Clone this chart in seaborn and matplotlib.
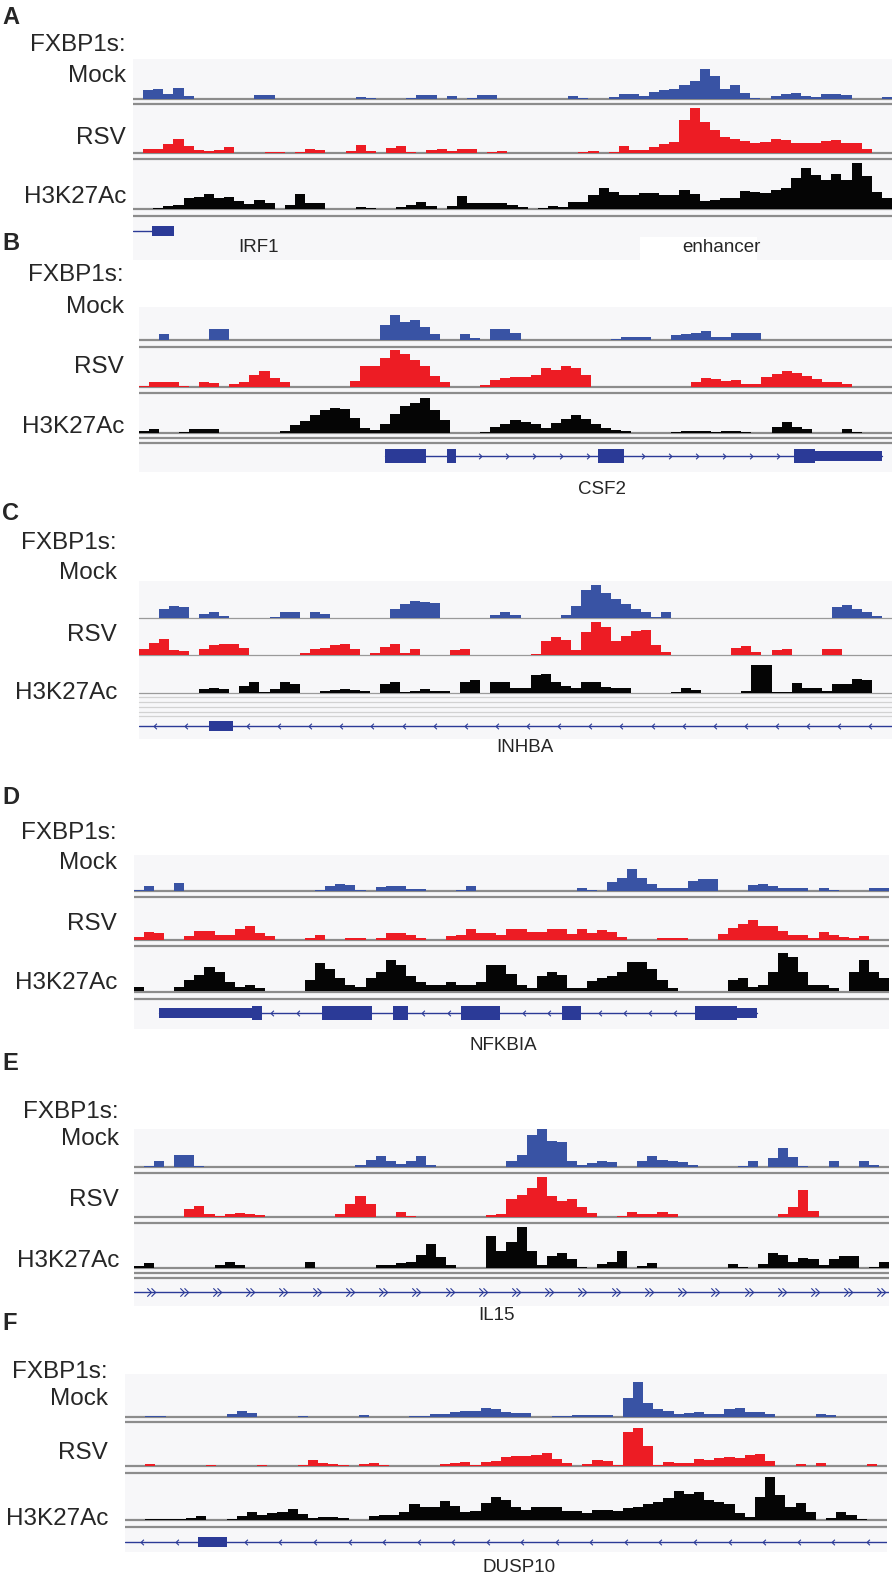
import numpy as np
import pandas as pd
import matplotlib.pyplot as plt
import seaborn as sns
from matplotlib.patches import Rectangle
from matplotlib.path import Path

sns.set_style('white')
plt.rcParams['font.family'] = ['Liberation Sans', 'DejaVu Sans']

W, H = 892, 1574
N_BINS = 75

# coverage per genomic bin (0 = empty, 10 = top of the track)
mock_a = [0, 2.2, 2.6, 1.2, 2.7, 0.8, 0, 0, 0, 0,
          0, 0, 1.0, 1.1, 0, 0, 0, 0, 0, 0,
          0, 0, 0.4, 0.2, 0, 0, 0, 0.3, 0.9, 1.0,
          0, 0.8, 0, 0.3, 0.9, 0.9, 0, 0, 0, 0,
          0, 0, 0, 0.8, 0.3, 0, 0, 0.5, 1.2, 1.2,
          0.7, 1.8, 2.2, 2.6, 3.6, 4.6, 7.6, 5.8, 2.4, 3.6,
          1.6, 0.3, 0, 0.8, 1.3, 1.4, 0.8, 0.5, 1.3, 1.2,
          1.0, 0, 0, 0, 0.4]
rsv_a = [0, 0.9, 0.9, 2.0, 3.0, 1.5, 0.6, 0.5, 0.6, 1.2,
         0, 0, 0, 0.3, 0.3, 0, 0.3, 0.9, 0.6, 0,
         0, 0.5, 1.8, 0.5, 0, 1.0, 1.4, 0.3, 0, 0.6,
         0.9, 0.4, 0.8, 0.9, 0, 0.2, 0.4, 0, 0, 0,
         0, 0, 0, 0, 0.3, 0.4, 0, 0.2, 1.5, 0.7,
         0.7, 1.2, 2.0, 2.3, 7.0, 9.6, 6.6, 4.8, 3.4, 3.0,
         2.6, 2.1, 2.4, 3.0, 2.8, 2.1, 2.1, 2.2, 2.6, 2.7,
         2.2, 2.1, 0.8, 0, 0]
h3k_a = [0, 0, 0.3, 0.7, 0.9, 2.2, 2.5, 3.1, 2.3, 2.5,
         1.7, 1.0, 1.9, 1.2, 0, 0.8, 3.1, 1.2, 1.2, 0,
         0, 0, 0.5, 0.3, 0, 0, 0.4, 0.8, 1.5, 0.6,
         0, 0.6, 2.8, 1.2, 1.2, 1.2, 1.2, 0.9, 0.5, 0,
         0.2, 0.6, 0.4, 1.5, 1.5, 3.0, 4.4, 3.5, 3.0, 3.0,
         3.3, 3.4, 3.0, 3.0, 4.0, 3.2, 1.7, 1.9, 2.2, 2.3,
         3.8, 3.6, 3.3, 4.0, 4.4, 6.5, 8.6, 7.0, 6.0, 7.2,
         6.0, 9.6, 6.8, 3.6, 2.3]

mock_b = [0, 0, 1.8, 0, 0, 0, 0, 3.3, 3.3, 0,
          0, 0, 0, 0, 0, 0, 0, 0, 0, 0,
          0, 0, 0, 0, 4.5, 7.5, 5.5, 6.2, 4.0, 1.8,
          0, 0, 1.8, 0.5, 0, 3.3, 3.3, 2.0, 0, 0,
          0, 0, 0, 0, 0, 0, 0, 0.3, 0.8, 0.8,
          0.8, 0, 0, 1.5, 1.8, 2.2, 2.6, 0.8, 0.9, 2.0,
          2.0, 2.0, 0, 0, 0, 0, 0, 0, 0, 0,
          0, 0, 0, 0, 0]
rsv_b = [0.2, 1.4, 1.4, 1.4, 0.3, 0, 1.4, 0.9, 0, 0.8,
         1.4, 3.0, 4.2, 2.2, 1.2, 0, 0, 0, 0, 0,
         0, 1.5, 5.5, 5.5, 7.4, 9.6, 8.5, 7.0, 5.5, 2.8,
         1.2, 0, 0, 0, 0.4, 1.8, 2.4, 2.5, 2.5, 3.1,
         5.0, 4.3, 5.3, 5.0, 3.0, 0, 0, 0, 0, 0,
         0, 0, 0, 0, 0, 1.2, 2.2, 2.0, 1.5, 1.7,
         0.8, 0.8, 2.6, 3.3, 4.2, 3.5, 2.7, 2.0, 1.4, 1.2,
         0.8, 0, 0, 0, 0]
h3k_b = [0.6, 1.0, 0, 0, 0.3, 1.0, 1.0, 1.0, 0, 0,
         0, 0, 0, 0, 0.4, 2.0, 3.2, 4.8, 6.0, 6.7,
         6.3, 4.0, 1.4, 0.8, 2.5, 5.0, 7.1, 7.9, 9.2, 6.0,
         3.3, 0, 0, 0, 0.3, 1.7, 2.3, 3.5, 2.8, 2.5,
         1.4, 2.7, 3.6, 4.8, 3.8, 2.3, 1.2, 0.8, 0.5, 0,
         0, 0, 0, 0.2, 0.4, 0.4, 0.4, 0.2, 0.4, 0.4,
         0.3, 0, 0, 1.7, 2.9, 1.5, 1.0, 0, 0, 0,
         1.0, 0.3, 0, 0, 0]

mock_c = [0, 0, 2.5, 3.2, 3.0, 0, 1.2, 1.5, 0.5, 0,
          0, 0, 0, 0.3, 1.5, 1.5, 0, 1.5, 1.2, 0,
          0, 0, 0, 0, 0, 2.5, 3.9, 4.5, 4.2, 4.0,
          0, 0, 0, 0, 0, 0.9, 1.5, 0.8, 0, 0,
          0, 0, 0.7, 3.2, 7.6, 9.0, 6.8, 5.2, 3.8, 2.5,
          1.6, 0.3, 1.5, 0, 0, 0, 0, 0, 0, 0,
          0, 0, 0, 0, 0, 0, 0, 0, 0, 3.0,
          3.6, 2.5, 1.5, 0.5, 0]
rsv_c = [1.7, 3.4, 4.5, 1.5, 1.2, 0, 1.7, 3.0, 3.2, 3.2,
         2.0, 0, 0, 0, 0, 0, 0.6, 1.7, 2.0, 2.8,
         3.2, 1.8, 0, 0.5, 2.2, 3.2, 0.6, 1.7, 0, 0,
         0, 1.5, 1.7, 0, 0, 0, 0, 0, 0, 0.3,
         4.0, 5.1, 4.2, 1.5, 6.5, 9.3, 8.0, 4.0, 5.5, 7.0,
         7.2, 3.0, 0.8, 0, 0, 0, 0, 0, 0, 2.0,
         2.6, 0.8, 0, 1.4, 1.7, 0, 0, 0, 1.7, 1.7,
         0, 0, 0, 0, 0]
h3k_c = [0, 0, 0, 0, 0, 0, 1.0, 1.5, 1.0, 0,
         2.0, 3.1, 0.3, 1.0, 3.1, 2.5, 0, 0, 0.5, 0.7,
         1.0, 0.7, 0.6, 0, 2.5, 3.0, 0.4, 0.6, 1.0, 0.6,
         0.6, 0, 3.0, 3.5, 0, 3.1, 3.1, 1.5, 1.5, 4.9,
         5.2, 3.0, 2.0, 1.5, 3.1, 3.1, 1.8, 1.5, 1.3, 0,
         0, 0, 0, 0.2, 1.5, 0.8, 0, 0, 0, 0,
         0.5, 7.9, 7.9, 0.4, 0.3, 2.8, 1.5, 1.3, 0.5, 2.4,
         2.5, 3.9, 3.5, 0, 0]

mock_d = [0.4, 1.4, 0, 0, 2.2, 0, 0, 0, 0, 0,
          0, 0, 0, 0, 0, 0, 0, 0, 0.3, 1.4,
          2.0, 1.6, 0.4, 0, 1.0, 1.4, 1.4, 0.6, 0.6, 0,
          0, 0, 0.2, 1.4, 0, 0, 0, 0, 0, 0,
          0, 0, 0, 0, 0.7, 0.4, 0, 2.5, 3.5, 6.2,
          3.5, 2.0, 0.7, 0.7, 0.7, 2.8, 3.2, 3.2, 0, 0,
          0, 1.8, 2.0, 1.4, 0.9, 0.7, 0.7, 0, 0.7, 0.4,
          0, 0, 0.1, 0.7, 0.7]
rsv_d = [0.7, 2.0, 1.8, 0, 0, 1.0, 2.2, 2.2, 1.2, 1.3,
         2.8, 3.5, 1.8, 0.9, 0, 0, 0, 0.6, 1.2, 0,
         0, 0.5, 0.5, 0, 0.5, 1.8, 1.6, 1.2, 0.4, 0,
         0, 1.0, 1.2, 2.8, 1.8, 1.8, 1.3, 2.6, 2.6, 2.0,
         2.0, 2.6, 2.6, 1.4, 2.6, 1.8, 2.5, 2.0, 0.8, 0,
         0, 0, 0.5, 0.6, 0.5, 0, 0, 0, 1.5, 3.0,
         4.0, 4.8, 3.3, 3.5, 2.2, 1.2, 1.2, 0.4, 2.0, 1.2,
         0.8, 0.5, 1.0, 0, 0]
h3k_d = [1.0, 0, 0, 0, 1.0, 2.6, 3.8, 5.5, 4.5, 2.0,
         1.0, 1.4, 0.8, 0, 0, 0, 0, 2.5, 6.5, 5.0,
         3.0, 1.5, 1.0, 3.0, 4.5, 7.3, 6.0, 3.5, 2.0, 1.5,
         1.5, 2.0, 1.5, 1.5, 2.2, 6.0, 6.1, 4.0, 1.4, 0.6,
         3.5, 4.5, 3.8, 0.8, 0.8, 2.3, 3.0, 3.5, 4.5, 6.7,
         6.7, 5.0, 2.5, 0.8, 0, 0, 0, 0, 0, 2.5,
         3.0, 1.0, 1.5, 4.5, 8.9, 8.0, 4.5, 1.5, 1.3, 0.6,
         0, 4.5, 7.3, 4.5, 3.0]

mock_e = [0, 0.2, 1.7, 0, 3.1, 3.1, 0.3, 0, 0, 0,
          0, 0, 0, 0, 0, 0, 0, 0, 0, 0,
          0, 0, 0.6, 1.8, 2.8, 1.5, 0.8, 1.7, 3.0, 0.4,
          0, 0, 0, 0, 0, 0, 0, 1.7, 3.1, 8.3,
          9.9, 6.8, 6.6, 1.5, 0.6, 1.0, 1.7, 1.2, 0, 0.1,
          1.5, 2.9, 1.8, 1.5, 1.4, 0.6, 0, 0, 0, 0,
          0.2, 1.7, 0, 2.5, 5.0, 2.6, 0.2, 0, 0, 1.7,
          0, 0, 1.7, 0.4, 0]
rsv_e = [0, 0, 0, 0, 0, 2.0, 2.6, 0.8, 0.2, 0.6,
         1.0, 0.6, 0.4, 0, 0, 0, 0, 0, 0, 0,
         0.6, 3.0, 5.0, 3.0, 0, 0.1, 1.2, 0.2, 0, 0,
         0, 0, 0, 0, 0, 0.4, 0.6, 4.2, 5.2, 7.0,
         9.5, 5.0, 3.8, 4.2, 2.5, 1.0, 0, 0, 0.3, 1.2,
         0.8, 0.8, 1.2, 0.8, 0, 0, 0, 0, 0, 0,
         0, 0, 0, 0, 0.8, 2.5, 6.5, 1.4, 0, 0,
         0, 0, 0, 0, 0]
h3k_e = [0.4, 1.1, 0, 0, 0, 0, 0, 0, 0.8, 1.4,
         0.6, 0, 0, 0, 0, 0, 0, 1.4, 0, 0,
         0, 0, 0, 0, 0.6, 0.6, 1.1, 1.4, 3.0, 5.5,
         2.5, 0.8, 0, 0, 0, 7.5, 4.0, 6.0, 9.6, 4.0,
         0.8, 2.8, 3.6, 2.2, 0.3, 0, 1.0, 1.4, 4.0, 0,
         0.4, 1.2, 0, 0, 0, 0, 0, 0, 0, 1.0,
         0.2, 0, 1.0, 3.5, 3.0, 1.4, 2.4, 2.2, 0.6, 2.0,
         2.8, 2.8, 0, 0.2, 1.4]

mock_f = [0, 0, 0.2, 0.3, 0, 0, 0, 0, 0, 0,
          0.6, 1.4, 1.0, 0, 0, 0, 0, 0.2, 0, 0,
          0, 0, 0, 0.4, 0, 0, 0, 0, 0.3, 0.3,
          0.6, 0.8, 1.1, 1.3, 1.3, 2.0, 1.8, 1.2, 0.9, 0.9,
          0, 0, 0.2, 0.3, 0.4, 0.4, 0.5, 0.4, 0.1, 4.5,
          8.2, 3.2, 1.9, 1.3, 0.8, 1.0, 1.2, 0.6, 0.8, 1.8,
          2.0, 1.1, 1.1, 0.8, 0, 0, 0, 0, 0.6, 0.5,
          0, 0, 0, 0, 0]
rsv_f = [0, 0, 0.5, 0, 0, 0, 0, 0, 0.3, 0,
         0, 0, 0, 0.2, 0, 0, 0, 0.3, 1.4, 0.8,
         0.4, 0.2, 0, 0.5, 0.6, 0.3, 0, 0, 0, 0,
         0, 0.4, 0.8, 1.0, 0.3, 1.0, 1.2, 2.2, 2.4, 2.5,
         2.6, 3.0, 1.6, 0.8, 0, 0.4, 1.4, 1.1, 0.3, 8.0,
         9.0, 4.8, 0.3, 0.9, 0.6, 0.7, 1.6, 1.4, 1.9, 2.2,
         1.9, 2.7, 2.8, 1.3, 0, 0, 0.4, 0, 0.8, 0,
         0, 0, 0, 0.4, 0]
h3k_f = [0, 0, 0.2, 0.3, 0.3, 0.3, 0.5, 0.8, 0, 0,
         0.3, 0.9, 1.8, 1.2, 1.5, 1.8, 2.4, 1.4, 0.4, 0.7,
         0.6, 0.4, 0, 0, 0.9, 1.2, 1.2, 1.8, 3.6, 2.8,
         2.8, 4.2, 3.2, 1.8, 2.0, 3.8, 5.0, 4.5, 2.8, 2.2,
         2.8, 2.8, 2.8, 2.0, 2.0, 1.6, 2.2, 2.2, 2.0, 2.6,
         2.8, 3.6, 4.0, 4.8, 6.5, 5.8, 6.2, 4.5, 4.0, 3.5,
         1.5, 0.6, 5.0, 9.6, 5.5, 2.8, 3.8, 1.8, 0, 0.4,
         1.8, 1.2, 0.3, 0, 0]

# gene models (bin units): transcript span, exons (start, end, kind), strand
irf1_span, irf1_exons, irf1_strand = (0, 1.9), [(1.9, 4.1, 'utr')], '+'
csf2_span = (24.5, 74.0)
csf2_exons = [(24.5, 28.6, 'cds'), (30.7, 31.6, 'cds'), (45.7, 48.3, 'cds'),
              (65.2, 67.3, 'cds'), (67.3, 74.0, 'utr')]
csf2_strand = '+'
inhba_span, inhba_exons, inhba_strand = (0, 75), [(7.0, 9.4, 'utr')], '-'
nfkbia_span = (2.5, 61.9)
nfkbia_exons = [(2.5, 11.7, 'utr'), (11.7, 12.7, 'cds'), (18.7, 23.6, 'cds'),
                (25.7, 27.2, 'cds'), (32.5, 36.4, 'cds'), (42.5, 44.4, 'cds'),
                (55.7, 59.9, 'cds'), (59.9, 61.9, 'utr')]
nfkbia_strand = '-'
il15_span, il15_exons, il15_strand = (0, 75), [], '++'
dusp10_span, dusp10_exons, dusp10_strand = (0, 75), [(7.2, 10.0, 'utr')], '-'

track_names = ['Mock', 'RSV', 'H3K27Ac']
track_colors = ['#3953a4', '#ed1c24', '#050505']
GENE = '#2b3a97'
BG = '#f7f7f9'
SEP = '#8c8c8c'

panels = [
    dict(letter='A', ly=17, x0=133, x1=892, lx=126, fy=45, ty=(76, 138, 197),
         boxes=((59, 99), (106, 153), (161, 209)), lines=(99, 104, 153, 159, 209, 216),
         thin=(), faint=(), bg=(59, 260), gy=231, glab=(259, 248), step=None,
         data=(mock_a, rsv_a, h3k_a), gene=('IRF1', irf1_span, irf1_exons, irf1_strand)),
    dict(letter='B', ly=243, x0=139, x1=892, lx=124, fy=275, ty=(307, 367, 427),
         boxes=((307, 340), (348, 387), (395, 433)), lines=(340, 347, 387, 393, 433, 438, 443),
         thin=(), faint=(), bg=(307, 472), gy=456, glab=(602, 489), step=2.7,
         data=(mock_b, rsv_b, h3k_b), gene=('CSF2', csf2_span, csf2_exons, csf2_strand)),
    dict(letter='C', ly=513, x0=139, x1=892, lx=117, fy=543, ty=(573, 635, 693),
         boxes=((581, 618), (620, 655), (657, 693)), lines=(),
         thin=(618, 655, 693), faint=(697, 702, 707, 712, 716), bg=(581, 739), gy=726,
         glab=(525, 747), step=3.1,
         data=(mock_c, rsv_c, h3k_c), gene=('INHBA', inhba_span, inhba_exons, inhba_strand)),
    dict(letter='D', ly=798, x0=134, x1=889, lx=117, fy=833, ty=(863, 924, 983),
         boxes=((855, 891), (899, 940), (948, 991)), lines=(891, 897, 940, 946, 992, 999),
         thin=(), faint=(), bg=(855, 1029), gy=1013, glab=(503, 1045), step=2.5,
         data=(mock_d, rsv_d, h3k_d), gene=('NFKBIA', nfkbia_span, nfkbia_exons, nfkbia_strand)),
    dict(letter='E', ly=1063, x0=134, x1=889, lx=119, fy=1112, ty=(1139, 1200, 1261),
         boxes=((1129, 1167), (1175, 1217), (1225, 1268)),
         lines=(1167, 1173, 1217, 1223, 1268, 1273, 1278),
         thin=(), faint=(), bg=(1129, 1306), gy=1292, glab=(496, 1315), step=3.3,
         data=(mock_e, rsv_e, h3k_e), gene=('IL15', il15_span, il15_exons, il15_strand)),
    dict(letter='F', ly=1323, x0=125, x1=887, lx=108, fy=1372, ty=(1399, 1453, 1519),
         boxes=((1374, 1417), (1424, 1466), (1475, 1520)), lines=(1417, 1422, 1466, 1473, 1520, 1527),
         thin=(), faint=(), bg=(1374, 1552), gy=1542, glab=(519, 1567), step=3.4,
         data=(mock_f, rsv_f, h3k_f), gene=('DUSP10', dusp10_span, dusp10_exons, dusp10_strand)),
]

# chevron markers for strand direction
M, L = Path.MOVETO, Path.LINETO
chev = {
    '+': Path([(-0.5, 1), (0.5, 0), (-0.5, -1)], [M, L, L]),
    '-': Path([(0.5, 1), (-0.5, 0), (0.5, -1)], [M, L, L]),
    '++': Path([(-1, 1), (0, 0), (-1, -1), (0, 1), (1, 0), (0, -1)], [M, L, L, M, L, L]),
}

fig = plt.figure(figsize=(W / 100, H / 100), dpi=100)
ov = fig.add_axes([0, 0, 1, 1])
ov.set_xlim(0, W)
ov.set_ylim(H, 0)
ov.axis('off')


def px_axes(x0, x1, top, bottom):
    ax = fig.add_axes([x0 / W, 1 - bottom / H, (x1 - x0) / W, (bottom - top) / H])
    ax.patch.set_alpha(0)
    ax.axis('off')
    return ax


centers = np.arange(N_BINS) + 0.5

for p in panels:
    x0, x1 = p['x0'], p['x1']
    ov.add_patch(Rectangle((x0, p['bg'][0]), x1 - x0, p['bg'][1] - p['bg'][0],
                           facecolor=BG, edgecolor='none', zorder=0))
    for y in p['lines']:
        ov.plot([x0, x1], [y, y], color=SEP, lw=1.6, solid_capstyle='butt', zorder=1)
    for y in p['thin']:
        ov.plot([x0, x1], [y, y], color='#9a9a9a', lw=0.9, zorder=1)
    for y in p['faint']:
        ov.plot([x0, x1], [y, y], color='#d2d2d2', lw=0.9, zorder=1)

    ov.text(2, p['ly'], p['letter'], fontsize=17, fontweight='bold', ha='left', va='center')
    ov.text(p['lx'], p['fy'], 'FXBP1s:', fontsize=17.5, ha='right', va='center')
    for name, y in zip(track_names, p['ty']):
        ov.text(p['lx'], y, name, fontsize=17.5, ha='right', va='center')

    for vals, color, (top, base) in zip(p['data'], track_colors, p['boxes']):
        ax = px_axes(x0, x1, top, base)
        cov = pd.DataFrame({'pos': centers, 'cov': vals})
        sns.histplot(data=cov, x='pos', weights='cov', bins=N_BINS, binrange=(0, N_BINS),
                     element='step', fill=True, color=color, alpha=1, linewidth=0, ax=ax)
        ax.set_xlim(0, N_BINS)
        ax.set_ylim(0, 10)
        ax.axis('off')

    gname, span, exons, strand = p['gene']
    gax = px_axes(x0, x1, p['gy'] - 10, p['gy'] + 10)
    gax.set_xlim(0, N_BINS)
    gax.set_ylim(-10, 10)
    gax.plot(span, [0, 0], color=GENE, lw=1.0)
    for s, e, kind in exons:
        h = 7.3 if kind == 'cds' else 4.6
        gax.add_patch(Rectangle((s, -h), e - s, 2 * h, facecolor=GENE, edgecolor='none'))
    if p['step']:
        xs = np.arange(span[0] + p['step'] / 2, span[1], p['step'])
        xs = [x for x in xs if not any(s - 0.4 <= x <= e + 0.4 for s, e, _ in exons)]
        gax.plot(xs, np.zeros(len(xs)), ls='none', marker=chev[strand],
                 ms=6 if strand == '++' else 4, mfc='none', mec=GENE, mew=0.8)

    if gname == 'IRF1':
        ov.add_patch(Rectangle((640, 237), 117, 23, facecolor='white', edgecolor='none', zorder=2))
        ov.text(721, 247, 'enhancer', fontsize=13.5, ha='center', va='center', zorder=3)
    ov.text(p['glab'][0], p['glab'][1], gname, fontsize=13.5, ha='center', va='center')

fig.savefig('out.png', dpi=100)
plt.close(fig)
